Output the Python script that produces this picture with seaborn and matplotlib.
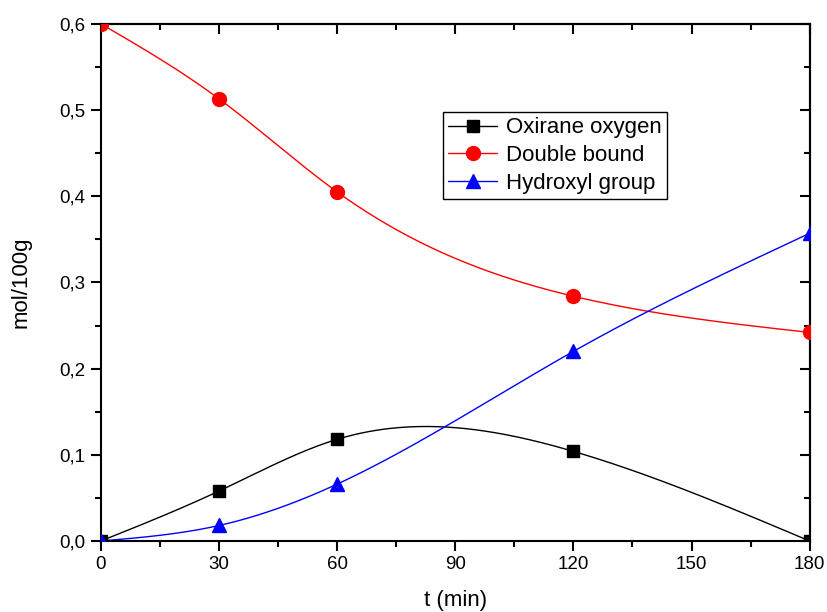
import matplotlib
matplotlib.use("Agg")
import matplotlib.pyplot as plt
import matplotlib.ticker as mticker
from matplotlib.lines import Line2D
import numpy as np
import pandas as pd
import seaborn as sns

# data
time_min = [0, 30, 60, 120, 180]
oxirane = [0.0, 0.058, 0.118, 0.104, 0.0]
double_bond = [0.600, 0.513, 0.405, 0.284, 0.242]
hydroxyl = [0.0, 0.018, 0.066, 0.220, 0.357]

series_names = ["Oxirane oxygen", "Double bound", "Hydroxyl group"]
series_colors = ["black", "red", "blue"]
series_markers = ["s", "o", "^"]
series_sizes = [8.5, 10, 10]


def spline_curve(x, y, num=300):
    # natural cubic spline, used only to draw the connecting line
    x = np.asarray(x, float)
    y = np.asarray(y, float)
    n = len(x)
    h = np.diff(x)
    A = np.zeros((n, n))
    b = np.zeros(n)
    A[0, 0] = A[-1, -1] = 1
    for i in range(1, n - 1):
        A[i, i - 1] = h[i - 1]
        A[i, i] = 2 * (h[i - 1] + h[i])
        A[i, i + 1] = h[i]
        b[i] = 6 * ((y[i + 1] - y[i]) / h[i] - (y[i] - y[i - 1]) / h[i - 1])
    M = np.linalg.solve(A, b)
    xs = np.linspace(x[0], x[-1], num)
    idx = np.clip(np.searchsorted(x, xs) - 1, 0, n - 2)
    x0, x1 = x[idx], x[idx + 1]
    hh = x1 - x0
    ys = (M[idx] * (x1 - xs) ** 3 + M[idx + 1] * (xs - x0) ** 3) / (6 * hh) \
        + (y[idx] / hh - M[idx] * hh / 6) * (x1 - xs) \
        + (y[idx + 1] / hh - M[idx + 1] * hh / 6) * (xs - x0)
    return xs, ys


sns.set_style("ticks")
plt.rcParams["font.family"] = ["Liberation Sans", "DejaVu Sans"]
plt.rcParams["text.color"] = "black"
plt.rcParams["axes.labelcolor"] = "black"
plt.rcParams["xtick.color"] = "black"
plt.rcParams["ytick.color"] = "black"
plt.rcParams["axes.edgecolor"] = "black"

fig = plt.figure(figsize=(8.27, 6.12), dpi=100)
ax = fig.add_axes([0.122, 0.116, 0.857, 0.845])

handles = []
for vals, name, col, mk, ms in zip([oxirane, double_bond, hydroxyl], series_names,
                                   series_colors, series_markers, series_sizes):
    xs, ys = spline_curve(time_min, vals)
    curve = pd.DataFrame({"t": xs, "v": ys})
    sns.lineplot(data=curve, x="t", y="v", color=col, linewidth=1.0, ax=ax,
                 estimator=None, sort=False)
    ax.plot(time_min, vals, linestyle="none", marker=mk, markersize=ms,
            color=col, markeredgecolor=col, zorder=3)
    handles.append(Line2D([], [], color=col, linewidth=1.0, marker=mk,
                          markersize=ms, label=name))

ax.set_xlim(0, 180)
ax.set_ylim(0, 0.6)
ax.xaxis.set_major_locator(mticker.MultipleLocator(30))
ax.xaxis.set_minor_locator(mticker.MultipleLocator(15))
ax.yaxis.set_major_locator(mticker.MultipleLocator(0.1))
ax.yaxis.set_minor_locator(mticker.MultipleLocator(0.05))
ax.yaxis.set_major_formatter(mticker.FuncFormatter(lambda v, p: f"{v:.1f}".replace(".", ",")))

ax.tick_params(which="major", direction="out", length=7, width=1.5, labelsize=13.5, pad=4)
ax.tick_params(which="minor", direction="out", length=4, width=1.5)

for side in ["top", "right"]:
    if side == "top":
        sec = ax.secondary_xaxis("top")
        sec.xaxis.set_major_locator(mticker.MultipleLocator(30))
        sec.xaxis.set_minor_locator(mticker.MultipleLocator(15))
    else:
        sec = ax.secondary_yaxis("right")
        sec.yaxis.set_major_locator(mticker.MultipleLocator(0.1))
        sec.yaxis.set_minor_locator(mticker.MultipleLocator(0.05))
    sec.tick_params(which="major", direction="in", length=7, width=1.5,
                    labeltop=False, labelright=False)
    sec.tick_params(which="minor", direction="in", length=4, width=1.5)
    for sp in sec.spines.values():
        sp.set_linewidth(1.5)

for sp in ax.spines.values():
    sp.set_linewidth(1.5)
    sp.set_visible(True)

ax.set_xlabel("t (min)", fontsize=16, labelpad=12)
ax.set_ylabel("mol/100g", fontsize=16, labelpad=20)

leg = ax.legend(handles=handles, loc="upper left", bbox_to_anchor=(0.482, 0.83),
                fontsize=16, frameon=True, fancybox=False, edgecolor="black",
                framealpha=1, handlelength=2.2, handletextpad=0.4,
                borderpad=0.25, labelspacing=0.3, borderaxespad=0)
leg.get_frame().set_linewidth(1.0)

fig.savefig("out.png", dpi=100)
